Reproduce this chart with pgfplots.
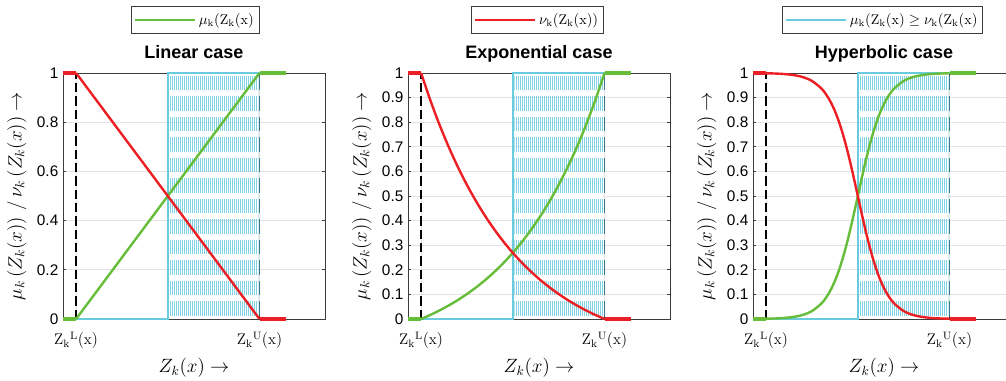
\documentclass[border=0pt]{standalone}
\usepackage{fontspec}
\usepackage{pgfplots}
\pgfplotsset{compat=1.18}
\usepackage{pgfplotstable}
\usetikzlibrary{patterns.meta}
\newfontfamily\arial{Liberation Sans}

\definecolor{mgreen}{RGB}{102,189,58}
\definecolor{mred}{RGB}{236,31,36}
\definecolor{mcyan}{RGB}{104,204,222}
\definecolor{mhatch}{RGB}{128,210,228}
\definecolor{mteal}{RGB}{58,122,136}
\definecolor{boxc}{RGB}{60,60,60}

\pgfplotstableread{
x mu nu
1    0       1
1.35 0.01646 0.88994
1.7  0.03465 0.79036
2.05 0.05476 0.70026
2.4  0.07698 0.61872
2.75 0.10154 0.54495
3.1  0.12868 0.47819
3.45 0.15867 0.41779
3.8  0.19182 0.36314
4.15 0.22846 0.31369
4.5  0.26894 0.26894
4.85 0.31369 0.22846
5.2  0.36314 0.19182
5.55 0.41779 0.15867
5.9  0.47819 0.12868
6.25 0.54495 0.10154
6.6  0.61872 0.07698
6.95 0.70026 0.05476
7.3  0.79036 0.03465
7.65 0.88994 0.01646
8    1       0
}\exptab

\pgfplotstableread{
x mu nu
1     0.00111 0.99889
1.35  0.0022  0.9978
1.7   0.00432 0.99568
2.05  0.0085  0.9915
2.4   0.01662 0.98338
2.75  0.0323  0.9677
3.1   0.0618  0.9382
3.275 0.08471 0.91529
3.45  0.11506 0.88494
3.625 0.15446 0.84554
3.8   0.20424 0.79576
3.975 0.26503 0.73497
4.15  0.33626 0.66374
4.325 0.41581 0.58419
4.5   0.5     0.5
4.675 0.58419 0.41581
4.85  0.66374 0.33626
5.025 0.73497 0.26503
5.2   0.79576 0.20424
5.375 0.84554 0.15446
5.55  0.88494 0.11506
5.725 0.91529 0.08471
5.9   0.9382  0.0618
6.25  0.9677  0.0323
6.6   0.98338 0.01662
6.95  0.9915  0.0085
7.3   0.99568 0.00432
7.65  0.9978  0.0022
8     0.99889 0.00111
}\hyptab

\pgfplotsset{
  myaxis/.style={
    scale only axis, width=196.5pt, height=184.5pt,
    xmin=0.5, xmax=10.5, ymin=0, ymax=1,
    clip=false,
    axis line style={draw=none},
    xtick={1,8},
    xticklabels={$\mathrm{Z_k{}^L(x)}$, $\mathrm{Z_k{}^U(x)}$},
    xticklabel style={font=\fontsize{11.5}{13}\selectfont, anchor=base, yshift=-19.5pt},
    yticklabel style={font=\arial\fontsize{11.5}{13}\selectfont},
    /pgf/number format/assume math mode=true,
    grid=major, grid style={draw=gray!22, line width=0.5pt},
    tick align=inside, major tick length=2.5pt, tick style={draw=boxc, line width=0.5pt},
    title style={font=\arial\bfseries\fontsize{13.5}{15}\selectfont, at={(axis description cs:0.5,1.0244)}, anchor=base},
    xlabel={$Z_k(x) \rightarrow$},
    xlabel style={font=\fontsize{14}{16}\selectfont, at={(axis description cs:0.5,-0.2195)}, anchor=base},
    ylabel={$\mu_k\left(Z_k(x)\right) \,/\, \nu_k\left(Z_k(x)\right) \rightarrow$},
    ylabel style={font=\fontsize{14}{16}\selectfont, at={(axis description cs:-0.122,0.5)}, anchor=south},
    legend style={anchor=center, draw=boxc, line width=0.75pt, inner xsep=2pt, inner ysep=3.5pt,
      font=\fontsize{10.5}{12}\selectfont, cells={anchor=west}},
    legend image code/.code={\draw[##1] (0pt,0pt) -- (45pt,0pt);},
  },
  hatchst/.style={forget plot, draw=none, pattern={Lines[angle=90,distance=1.5pt,line width=0.75pt,xshift=0.375pt]}, pattern color=mhatch},
  zlst/.style={forget plot, black, line width=1.2pt, dash pattern=on 7pt off 3pt},
  zust/.style={forget plot, mteal, line width=1.3pt, dash pattern=on 10.88pt off 4.5pt, dash phase=13.13pt},
  cyst/.style={forget plot, mcyan, line width=1.8pt},
  grst/.style={forget plot, mgreen, line width=1.8pt},
  rdst/.style={forget plot, mred, line width=1.8pt},
  flatg/.style={forget plot, mgreen, line width=3pt},
  flatr/.style={forget plot, mred, line width=3pt},
}

\newcommand{\hatchgaps}{%
  \draw[white, line width=4.5pt]
    (axis cs:4.56,0.08333)--(axis cs:7.96,0.08333)
    (axis cs:4.56,0.16667)--(axis cs:7.96,0.16667)
    (axis cs:4.56,0.25)--(axis cs:7.96,0.25)
    (axis cs:4.56,0.33333)--(axis cs:7.96,0.33333)
    (axis cs:4.56,0.41667)--(axis cs:7.96,0.41667)
    (axis cs:4.56,0.5)--(axis cs:7.96,0.5)
    (axis cs:4.56,0.58333)--(axis cs:7.96,0.58333)
    (axis cs:4.56,0.66667)--(axis cs:7.96,0.66667)
    (axis cs:4.56,0.75)--(axis cs:7.96,0.75)
    (axis cs:4.56,0.83333)--(axis cs:7.96,0.83333)
    (axis cs:4.56,0.91667)--(axis cs:7.96,0.91667);}

\begin{document}
\begin{tikzpicture}
% ---------- Linear ----------
\begin{axis}[myaxis, at={(47.25pt,46.5pt)}, anchor=south west,
  title={Linear case}, ytick={0,0.2,0.4,0.6,0.8,1},
  legend style={at={(axis description cs:0.504,1.215)}}]
\addlegendimage{mgreen, line width=1.8pt}
\addlegendentry{$\mu_{\mathrm{k}}(\mathrm{Z_k(x)}$}
\draw[boxc, line width=0.6pt] (rel axis cs:0,0) rectangle (rel axis cs:1,1);
\addplot[hatchst] coordinates {(4.56,0.0122) (4.56,0.9878) (7.96,0.9878) (7.96,0.0122)};
\hatchgaps
\addplot[zlst] coordinates {(1,0) (1,1)};
\addplot[zust] coordinates {(8,0) (8,1)};
\addplot[cyst] coordinates {(1,0) (4.5,0) (4.5,1) (8,1)};
\addplot[grst] coordinates {(1,0) (8,1)};
\addplot[rdst] coordinates {(1,1) (8,0)};
\addplot[flatr] coordinates {(0.5,1) (1,1)};
\addplot[flatg] coordinates {(0.5,0) (1,0)};
\addplot[flatg] coordinates {(8,1) (9,1)};
\addplot[flatr] coordinates {(8,0) (9,0)};
\end{axis}
% ---------- Exponential ----------
\begin{axis}[myaxis, at={(306pt,46.5pt)}, anchor=south west,
  title={Exponential case}, ytick={0,0.1,...,1.01},
  legend style={at={(axis description cs:0.494,1.215)}}]
\addlegendimage{mred, line width=1.8pt}
\addlegendentry{$\nu_{\mathrm{k}}(\mathrm{Z_k(x))}$}
\draw[boxc, line width=0.6pt] (rel axis cs:0,0) rectangle (rel axis cs:1,1);
\addplot[hatchst] coordinates {(4.56,0.0122) (4.56,0.9878) (7.96,0.9878) (7.96,0.0122)};
\hatchgaps
\addplot[zlst] coordinates {(1,0) (1,1)};
\addplot[zust] coordinates {(8,0) (8,1)};
\addplot[cyst] coordinates {(1,0) (4.5,0) (4.5,1) (8,1)};
\addplot[grst, smooth] table[x=x,y=mu] {\exptab};
\addplot[rdst, smooth] table[x=x,y=nu] {\exptab};
\addplot[flatr] coordinates {(0.5,1) (1,1)};
\addplot[flatg] coordinates {(0.5,0) (1,0)};
\addplot[flatg] coordinates {(8,1) (9,1)};
\addplot[flatr] coordinates {(8,0) (9,0)};
\end{axis}
% ---------- Hyperbolic ----------
\begin{axis}[myaxis, at={(564.75pt,46.5pt)}, anchor=south west,
  title={Hyperbolic case}, ytick={0,0.1,...,1.01},
  legend style={at={(axis description cs:0.494,1.215)}}]
\addlegendimage{mcyan, line width=1.8pt}
\addlegendentry{$\mu_{\mathrm{k}}(\mathrm{Z_k(x)} \geq \nu_{\mathrm{k}}(\mathrm{Z_k(x)}$}
\draw[boxc, line width=0.6pt] (rel axis cs:0,0) rectangle (rel axis cs:1,1);
\addplot[hatchst] coordinates {(4.56,0.0122) (4.56,0.9878) (7.96,0.9878) (7.96,0.0122)};
\hatchgaps
\addplot[zlst] coordinates {(1,0) (1,1)};
\addplot[zust] coordinates {(8,0) (8,1)};
\addplot[cyst] coordinates {(1,0) (4.5,0) (4.5,1) (8,1)};
\addplot[grst, smooth] table[x=x,y=mu] {\hyptab};
\addplot[rdst, smooth] table[x=x,y=nu] {\hyptab};
\addplot[flatr] coordinates {(0.5,1) (1,1)};
\addplot[flatg] coordinates {(0.5,0) (1,0)};
\addplot[flatg] coordinates {(8,1) (9,1)};
\addplot[flatr] coordinates {(8,0) (9,0)};
\end{axis}
\pgfresetboundingbox
\path[use as bounding box] (0,0) rectangle (754.5pt,285.75pt);
\end{tikzpicture}
\end{document}
